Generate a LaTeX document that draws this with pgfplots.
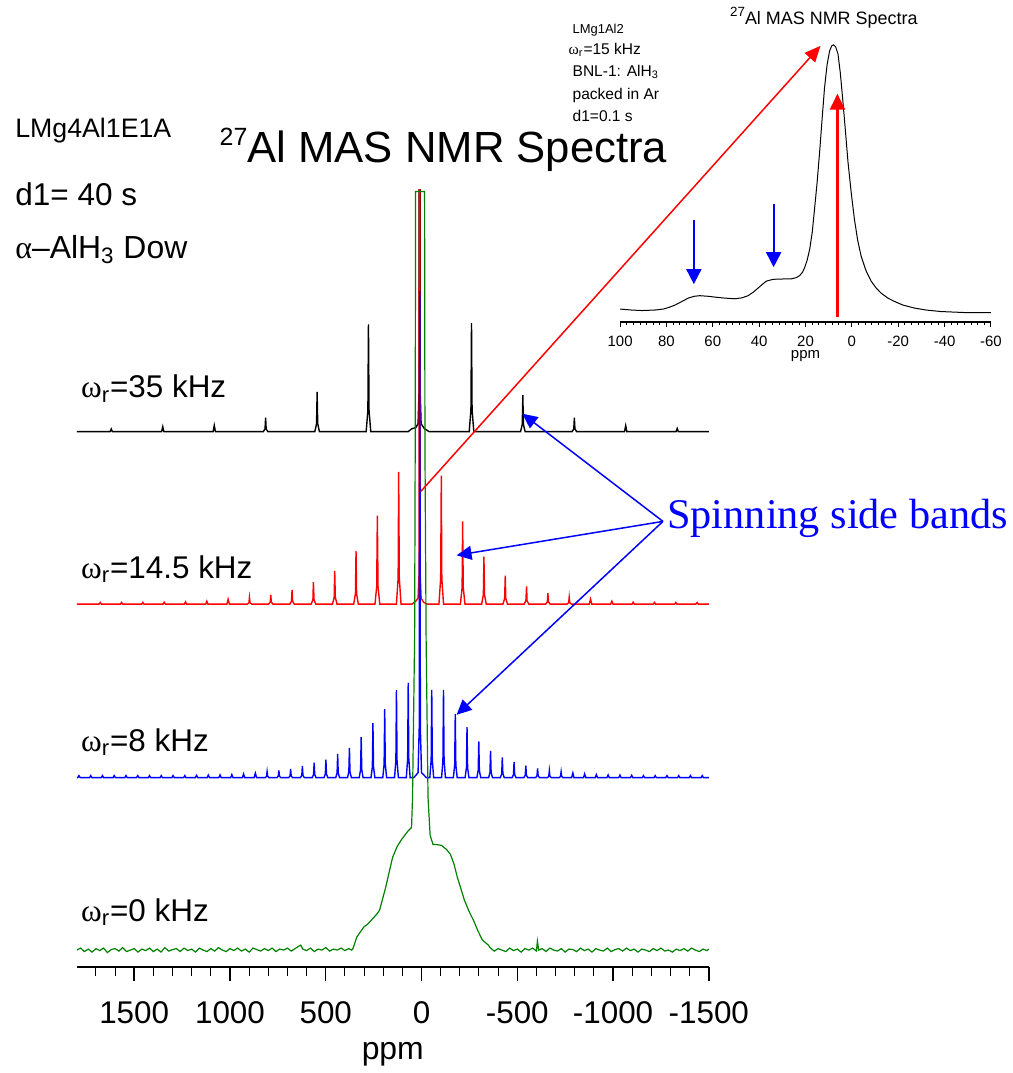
\documentclass[border=0pt]{standalone}
\usepackage{pgfplots}
\pgfplotsset{compat=1.18}
\usetikzlibrary{arrows.meta}
\usepackage{fontspec}
\setmainfont{Liberation Sans}
\newfontfamily\serif{Liberation Serif}
\definecolor{dgreen}{RGB}{0,128,0}
\newcommand\fs[1]{\fontsize{#1}{#1}\selectfont}
\begin{document}
\begin{tikzpicture}
% ---------------- main axis ----------------
\begin{axis}[
  at={(38.5pt,-485pt)}, anchor=south west, scale only axis,
  width=317pt, height=390pt,
  xmin=-1500, xmax=1800, x dir=reverse, ymin=0, ymax=780,
  axis x line=bottom, axis y line=none, ytick=\empty,
  x axis line style={-, line width=1pt},
  xtick={1500,1000,500,0,-500,-1000,-1500},
  xticklabels={1500,1000,500,0,-500,-1000,-1500},
  minor xtick={1700,1600,1400,1300,1200,1100,900,800,700,600,400,300,200,100,-100,-200,-300,-400,-600,-700,-800,-900,-1100,-1200,-1300,-1400},
  tick align=outside, major tick length=7pt, minor tick length=4.5pt,
  major tick style={line width=0.75pt, black}, minor tick style={line width=0.5pt, black},
  xticklabel style={font=\fs{15.75}, anchor=base, yshift=-21.5pt},
  xlabel={ppm}, xlabel style={font=\fs{16}, at={(axis description cs:0.5,0)}, anchor=base, yshift=-46.5pt},
]
% black, 35 kHz
\addplot[black, line width=0.7pt, y filter/.expression={y+537}] coordinates {
(1800,0) (1626,0) (1620,2.7) (1614,0) (1357,0) (1351,5) (1345,0) (1088,0) (1082,6.3) (1076,0)
(826,0) (817,2.8) (814,14) (811,2.8) (802,0) (557,0) (548,8) (545,40) (542,8) (533,0)
(289,0) (280,21.5) (277,107.7) (274,21.5) (265,0) (70,0) (50,3) (30,4) (18,8) (13,40) (10,1000) (7,40) (2,8) (-15,3) (-40,0)
(-249,0) (-258,22) (-261,109) (-264,22) (-273,0) (-517,0) (-526,7.3) (-529,36.7) (-532,7.3) (-541,0)
(-786,0) (-795,2.8) (-798,14) (-801,2.8) (-810,0) (-1060,0) (-1066,6) (-1072,0) (-1329,0) (-1335,3.3) (-1341,0) (-1500,0)
};
% red, 14.5 kHz
\addplot[red, line width=0.7pt, y filter/.expression={y+364}] coordinates {
(1800,0)
(1684,0)(1677.5,1.7)(1671,0)
(1572,0)(1566,1.7)(1560,0)
(1461,0)(1455,1.7)(1449,0)
(1350,0)(1343.6,2)(1337,0)
(1238,0)(1232.3,2.3)(1226,0)
(1127,0)(1121,3)(1115,0)
(1016,0)(1009.7,5)(1003,0)
(910,0)(901,1.3)(898.4,6.7)(895,1.3)(886,0)
(799,0)(790,1.9)(787.1,9.3)(784,1.9)(775,0)
(688,0)(679,2.9)(675.8,14.3)(673,2.9)(664,0)
(576,0)(567,4.4)(564.5,22)(561,4.4)(552,0)
(465,0)(456,6.7)(453.2,33.3)(450,6.7)(441,0)
(354,0)(345,10.7)(341.9,53.3)(339,10.7)(330,0)
(243,0)(234,17.7)(230.6,88.7)(227,17.7)(218,0)
(131,0)(122,26.5)(119.3,132.7)(116,26.5)(107,0)
(50,0)(30,3)(18,6)(13,30)(10,1000)(7,30)(2,6)(-10,2)(-30,0)
(-91,0)(-100,25.8)(-103.3,129)(-106,25.8)(-115,0)
(-203,0)(-212,16.6)(-214.6,83)(-218,16.6)(-227,0)
(-314,0)(-323,9.5)(-325.9,47.7)(-329,9.5)(-338,0)
(-425,0)(-434,5.7)(-437.2,28.7)(-440,5.7)(-449,0)
(-536,0)(-545,3.5)(-548.5,17.7)(-551,3.5)(-560,0)
(-648,0)(-657,2.2)(-659.8,11)(-663,2.2)(-672,0)
(-759,0)(-768,1.4)(-771.1,7)(-774,1.4)(-783,0)
(-876,0)(-882.4,5)(-889,0)
(-987,0)(-993.7,3)(-1000,0)
(-1099,0)(-1105,2)(-1111,0)
(-1210,0)(-1216.3,1.7)(-1222,0)
(-1321,0)(-1327.6,1.7)(-1334,0)
(-1432,0)(-1438.9,1.7)(-1445,0)
(-1500,0)
};
% blue, 8 kHz
\addplot[blue, line width=0.7pt, y filter/.expression={y+190}] coordinates {
(1800,0)
(1795,0)(1788.6,2)(1782,0)
(1733,0)(1727.2,2)(1721,0)
(1672,0)(1665.8,2)(1660,0)
(1610,0)(1604.4,2)(1598,0)
(1549,0)(1543,2)(1537,0)
(1488,0)(1481.6,2)(1475,0)
(1426,0)(1420.2,2)(1414,0)
(1365,0)(1358.8,2)(1353,0)
(1303,0)(1297.4,2)(1291,0)
(1242,0)(1236,2)(1230,0)
(1181,0)(1174.6,2.3)(1168,0)
(1119,0)(1113.2,2.5)(1107,0)
(1058,0)(1051.8,2.7)(1046,0)
(996,0)(990.4,3)(984,0)
(935,0)(929,3.7)(923,0)
(874,0)(867.6,4.5)(861,0)
(816.2,0)(809.2,1.2)(806.2,6)(803.2,1.2)(796.2,0)
(754.8,0)(747.8,1.5)(744.8,7.3)(741.8,1.5)(734.8,0)
(693.4,0)(686.4,1.7)(683.4,8.7)(680.4,1.7)(673.4,0)
(632,0)(625,2.3)(622,11.7)(619,2.3)(612,0)
(570.6,0)(563.6,3)(560.6,15)(557.6,3)(550.6,0)
(509.2,0)(502.2,3.6)(499.2,18)(496.2,3.6)(489.2,0)
(447.8,0)(440.8,4.7)(437.8,23.7)(434.8,4.7)(427.8,0)
(386.4,0)(379.4,5.9)(376.4,29.7)(373.4,5.9)(366.4,0)
(325,0)(318,8.1)(315,40.7)(312,8.1)(305,0)
(263.6,0)(256.6,10.9)(253.6,54.7)(250.6,10.9)(243.6,0)
(202.2,0)(195.2,13.7)(192.2,68.7)(189.2,13.7)(182.2,0)
(140.8,0)(133.8,17.5)(130.8,87.7)(127.8,17.5)(120.8,0)
(79.4,0)(72.4,19)(69.4,95)(66.4,19)(59.4,0)
(40,0)(18,5)(12,50)(9,488)(6,50)(0,5)(-25,0)
(-43.4,0)(-50.4,17.6)(-53.4,88)(-56.4,17.6)(-63.4,0)
(-104.8,0)(-111.8,17.6)(-114.8,88)(-117.8,17.6)(-124.8,0)
(-166.2,0)(-173.2,12.8)(-176.2,64)(-179.2,12.8)(-186.2,0)
(-227.6,0)(-234.6,10.1)(-237.6,50.7)(-240.6,10.1)(-247.6,0)
(-289,0)(-296,7.3)(-299,36.3)(-302,7.3)(-309,0)
(-350.4,0)(-357.4,5.3)(-360.4,26.7)(-363.4,5.3)(-370.4,0)
(-411.8,0)(-418.8,4.1)(-421.8,20.3)(-424.8,4.1)(-431.8,0)
(-473.2,0)(-480.2,3.1)(-483.2,15.7)(-486.2,3.1)(-493.2,0)
(-534.6,0)(-541.6,2.4)(-544.6,12)(-547.6,2.4)(-554.6,0)
(-596,0)(-603,1.9)(-606,9.3)(-609,1.9)(-616,0)
(-657.4,0)(-664.4,1.4)(-667.4,7)(-670.4,1.4)(-677.4,0)
(-718.8,0)(-725.8,1.1)(-728.8,5.7)(-731.8,1.1)(-738.8,0)
(-784,0)(-790.2,4.7)(-796,0)
(-846,0)(-851.6,3.7)(-858,0)
(-907,0)(-913,3)(-919,0)
(-968,0)(-974.4,2.7)(-980,0)
(-1030,0)(-1035.8,2.5)(-1042,0)
(-1091,0)(-1097.2,2.3)(-1103,0)
(-1153,0)(-1158.6,2)(-1165,0)
(-1214,0)(-1220,2)(-1226,0)
(-1275,0)(-1281.4,2)(-1288,0)
(-1337,0)(-1342.8,2)(-1349,0)
(-1398,0)(-1404.2,2)(-1410,0)
(-1460,0)(-1465.6,2)(-1472,0)
(-1500,0)
};
% green, static
\addplot[dgreen, line width=0.6pt, y filter/.expression={y+17}] coordinates {
(1800,0)(1780,2)(1760,-1.5)(1740,1)(1720,-2)(1700,1.5)(1680,-0.5)(1660,2)(1640,-2.5)(1620,0.5)
(1600,1.5)(1580,-1)(1560,2.5)(1540,-1.5)(1520,0)(1500,1.5)(1480,-2)(1460,1)(1440,-0.5)(1420,2)
(1400,-1.5)(1380,1)(1360,-2)(1340,2.5)(1320,-1)(1300,0.5)(1280,1.5)(1260,-1.5)(1240,2)(1220,-0.5)
(1200,1)(1180,-2)(1160,2)(1140,0)(1120,-1.5)(1100,1.5)(1080,-1)(1060,2.5)(1040,0)(1020,-1.5)
(1000,1.5)(980,-0.5)(960,2)(940,-1)(920,1)(900,-2)(880,2)(860,0.5)(840,-1)(820,1.5)
(800,-0.5)(780,2)(760,-1.5)(740,1)(720,0)(700,2)(680,-1)(660,1.5)(640,4)(630,5)
(620,1)(600,-0.5)(580,2)(560,-1.5)(540,1)(520,0)(500,2.5)(480,-1)(460,1)(440,0)
(420,2)(400,-0.5)(380,1.5)(365,0)
(359,1)(338,13)(302,23)(281,26)(234,36)(219,40)(187,63)(151,93)(127,104)(104,111)(68,120)(52,123)
(47,153)(36,313)(33,503)(31,761)(-16,761)(-18,503)(-24,313)(-34,153)
(-45,115)(-60,106)(-73,106)(-104,105)(-130,101)(-151,96)(-170,86)(-187,73)(-205,62)(-224,50)
(-250,38)(-271,30)(-295,19)(-318,10)(-349,5)(-360,2)
(-380,-1)(-400,1.5)(-420,0)(-440,-1.5)(-460,2)(-480,-0.5)(-500,1)(-520,-2)(-540,1.5)(-560,0)
(-580,2)(-600,-1)(-605,9)(-612,0)(-630,1.5)(-650,-1.5)(-670,2)(-690,0)(-710,-1)(-730,1.5)
(-750,-2)(-770,1)(-790,0.5)(-810,-1.5)(-830,2)(-850,-0.5)(-870,1)(-890,-2)(-910,1.5)(-930,0)
(-950,-1)(-970,2)(-990,-1.5)(-1010,0.5)(-1030,1.5)(-1050,-1)(-1070,2)(-1090,-0.5)(-1110,1)(-1130,-2)
(-1150,1)(-1170,0)(-1190,-1.5)(-1210,1.5)(-1230,-0.5)(-1250,2)(-1270,-1)(-1290,0)(-1310,-2)(-1330,1)
(-1350,-0.5)(-1370,1.5)(-1390,-1)(-1410,2)(-1430,0)(-1450,-1.5)(-1470,1)(-1490,-0.5)(-1500,1)
};
\end{axis}
% ---------------- inset axis ----------------
\begin{axis}[
  at={(311pt,-161.5pt)}, anchor=south west, scale only axis,
  width=186pt, height=150pt,
  xmin=-60, xmax=100, x dir=reverse, ymin=0, ymax=300,
  axis x line=bottom, axis y line=none, ytick=\empty,
  x axis line style={-, line width=0.75pt},
  xtick={100,80,60,40,20,0,-20,-40,-60},
  xticklabels={100,80,60,40,20,0,-20,-40,-60},
  minor x tick num=6,
  tick align=outside, major tick length=2.5pt, minor tick length=1.6pt,
  major tick style={line width=0.5pt, black}, minor tick style={line width=0.4pt, black},
  xticklabel style={font=\fs{7.5}, anchor=base, yshift=-10pt},
  xlabel={ppm}, xlabel style={font=\fs{7.5}, at={(axis description cs:0.5,0)}, anchor=base, yshift=-18.5pt},
  clip=false,
]
\addplot[black, line width=0.5pt] coordinates {
(100,13)(95,12)(90.7,11.5)(85,12)(81.3,13)(78.5,15)(76.3,17)(73,21)(70.6,24)(68,25.8)(65.6,26.4)
(62,25.8)(59.1,25)(55,24)(50.5,23.3)(47.5,24.2)(44.8,26.4)(42.5,30)(40.5,34)(38.5,38)(36.9,41)
(34,42.8)(31.9,43)(29,43.2)(26.1,43.3)(24,44.5)(22.5,46.6)(21.3,50)(20.4,54.4)(19.3,62)(18.2,73)
(17.1,90)(16.1,113.5)(15,140)(13.9,171)(12.8,205)(11.8,235)(10.7,258)(9.6,272)(8.7,277)(7.9,278)
(7,276)(6,269)(5,250)(3.9,222)(2.8,192)(1.7,161)(0.3,130)(-1.1,103)(-2.5,82)(-4,66)(-6,52)
(-8.3,41)(-10.5,34)(-12.6,29)(-15.5,24)(-18.4,20.6)(-22,17)(-27,14)(-32,12)(-38.4,10.5)(-48.5,9.5)(-60,9.5)
};
\end{axis}
% ---------------- annotations ----------------
\begin{scope}[x=0.5pt, y=-0.5pt]
\path (0,0) rectangle (1016,1073);
\tikzset{every node/.style={inner sep=0pt, anchor=base west}}
\node[font=\fs{13.4}] at (15,138) {LMg4Al1E1A};
\node[font=\fs{21.9}] at (220,163) {\raisebox{8.5pt}{\fs{12.5}27}Al MAS NMR Spectra};
\node[font=\fs{15.8}] at (15,206) {d1= 40 s};
\node[font=\fs{16}] at (15,259) {{\serif α}–AlH\textsubscript{3} Dow};
\node[font=\fs{15.75}] at (81,399) {{\serif ω}\textsubscript{r}=35 kHz};
\node[font=\fs{15.75}] at (81,580) {{\serif ω}\textsubscript{r}=14.5 kHz};
\node[font=\fs{15.75}] at (81,754) {{\serif ω}\textsubscript{r}=8 kHz};
\node[font=\fs{15.75}] at (81,924) {{\serif ω}\textsubscript{r}=0 kHz};
\node[font=\serif\fs{21.2}, text=blue] at (669,530) {Spinning side bands};
% inset texts
\node[font=\fs{9}] at (732,25) {\raisebox{4pt}{\fs{6.7}27}Al MAS NMR Spectra};
\node[font=\fs{6.5}] at (574,34) {LMg1Al2};
\node[font=\fs{7.8}] at (570,55) {{\serif ω}\textsubscript{r}=15 kHz};
\node[font=\fs{7.8}] at (574,77) {BNL-1: AlH\textsubscript{3}};
\node[font=\fs{7.8}] at (574,100) {packed in Ar};
\node[font=\fs{7.8}] at (574,122) {d1=0.1 s};
% arrows
\draw[red, line width=0.75pt, -{Triangle[length=8pt,width=7pt]}] (422,493) -- (823,46);
\draw[draw=red, fill=red, line width=1.1pt, -{Triangle[length=8pt,width=7.5pt]}] (840,318) -- (840,94);
\draw[blue, line width=0.9pt, -{Triangle[length=7.5pt,width=7.5pt]}] (696,221) -- (696,285);
\draw[blue, line width=0.9pt, -{Triangle[length=7.5pt,width=7.5pt]}] (776,205) -- (776,268);
\draw[blue, line width=0.75pt, -{Triangle[length=7.5pt,width=7pt]}] (665,523) -- (524,415);
\draw[blue, line width=0.75pt, -{Triangle[length=7.5pt,width=7pt]}] (665,523) -- (458,557);
\draw[blue, line width=0.75pt, -{Triangle[length=7.5pt,width=7pt]}] (665,523) -- (458,717);
\end{scope}
\end{tikzpicture}
\end{document}
